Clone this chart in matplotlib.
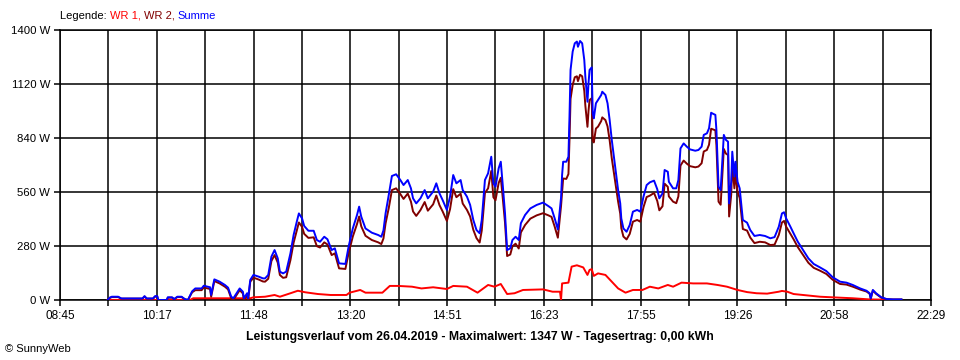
import matplotlib
matplotlib.use("Agg")
import matplotlib.pyplot as plt
from matplotlib.offsetbox import TextArea, HPacker, AnnotationBbox

# ---------------- data ----------------
sum_times = ["09:30","09:32","09:34","09:40","09:43","10:03","10:05","10:07","10:13","10:15","10:17","10:18",
             "10:26","10:27","10:31","10:33","10:36","10:40","10:43","10:46","10:50","10:53","10:59","11:01",
             "11:07","11:08","11:11","11:16","11:21","11:24","11:27","11:29","11:32","11:35","11:38","11:39",
             "11:42","11:43","11:45","11:48","11:53","11:57","11:59","12:02","12:05","12:08","12:11","12:13",
             "12:16","12:19","12:23","12:26","12:29","12:31","12:34","12:36","12:40","12:45","12:48","12:51",
             "12:55","12:58","13:02","13:05","13:09","13:15","13:18","13:22","13:26","13:28","13:30","13:34",
             "13:40","13:46","13:49","13:51","13:53","13:56","13:59","14:03","14:07","14:10","14:14","14:17",
             "14:19","14:22","14:26","14:30","14:33","14:38","14:41","14:44","14:47","14:51","14:54","14:57",
             "15:00","15:04","15:06","15:10","15:13","15:16","15:19","15:22","15:24","15:27","15:30","15:33",
             "15:35","15:37","15:40","15:42","15:44","15:46","15:48","15:51","15:53","15:56","15:59","16:01",
             "16:05","16:10","16:16","16:22","16:27","16:30","16:33","16:36","16:39","16:40","16:41","16:44",
             "16:46","16:47","16:48","16:50","16:52","16:54","16:55","16:57","16:59","17:01","17:02","17:04",
             "17:05","17:06","17:08","17:09","17:10","17:12","17:14","17:17","17:18","17:21","17:23","17:25",
             "17:27","17:29","17:31","17:33","17:35","17:36","17:38","17:41","17:44","17:47","17:51","17:54",
             "17:57","18:00","18:03","18:07","18:10","18:12","18:15","18:17","18:20","18:21","18:25","18:28",
             "18:30","18:32","18:35","18:38","18:41","18:46","18:49","18:52","18:54","18:57","18:59","19:01",
             "19:03","19:05","19:06","19:07","19:08","19:10","19:12","19:13","19:15","19:17","19:18","19:20",
             "19:21","19:23","19:24","19:26","19:28","19:30","19:31","19:35","19:38","19:42","19:47","19:52",
             "19:57","20:01","20:05","20:08","20:10","20:12","20:16","20:19","20:23","20:28","20:33","20:38",
             "20:44","20:50","20:56","21:03","21:09","21:15","21:22","21:28","21:31","21:32","21:34","21:37",
             "21:42","21:47","21:53","22:01"]

summe = [0,12,17,17,8,8,20,8,8,20,20,0,
         0,14,14,5,17,17,5,0,45,60,60,74,
         66,26,107,95,78,64,17,9,35,60,43,9,
         35,9,104,130,121,112,112,130,225,259,216,147,
         138,147,242,337,406,449,423,384,359,359,311,302,
         328,315,259,268,190,187,276,371,441,484,432,371,
         349,337,328,361,449,544,643,652,622,596,622,579,
         527,501,527,570,527,562,605,553,518,467,536,648,
         605,622,570,536,493,415,363,346,415,622,657,743,
         605,587,683,717,587,449,259,268,311,328,311,398,
         441,475,493,505,487,475,423,366,530,648,717,717,
         743,951,1193,1288,1331,1340,1313,1343,1331,1244,1158,1028,
         1124,1193,1206,968,942,1020,1037,1063,1080,1063,1020,933,
         830,743,657,570,501,423,371,354,389,458,467,458,
         536,596,610,619,575,527,553,674,665,613,579,579,
         622,786,812,795,781,774,778,795,856,864,890,971,
         965,960,881,726,587,570,760,856,830,821,501,613,
         769,640,717,613,579,467,415,401,363,332,337,332,
         320,326,380,449,455,423,380,346,302,259,216,187,
         169,150,118,95,90,78,60,48,35,9,52,35,
         14,5,3,3]

wr2 = [0,10,15,15,7,7,18,7,7,18,18,0,
       0,12,12,4,15,15,4,0,40,51,51,65,
       57,17,98,86,69,55,8,0,26,51,34,0,
       26,0,95,116,106,96,95,110,202,233,194,130,
       115,118,207,297,360,402,379,343,322,325,279,272,
       299,288,233,242,164,161,242,329,394,433,382,333,
       311,299,290,319,397,476,570,579,549,524,552,510,
       459,436,466,508,463,496,542,492,459,410,471,575,
       533,551,500,467,433,364,321,298,360,555,579,669,
       533,517,607,634,521,401,228,236,278,292,267,350,
       389,422,439,450,439,431,380,323,487,562,630,628,
       653,831,1043,1115,1155,1160,1135,1168,1160,1084,1008,898,
       981,1037,1046,826,817,889,899,928,947,933,900,828,
       735,660,585,510,448,373,329,314,343,406,415,406,
       481,534,541,555,514,465,486,603,587,537,510,502,
       537,697,723,707,694,688,692,709,770,778,805,888,
       884,880,802,648,510,494,686,783,759,752,433,547,
       705,579,658,561,529,419,368,360,324,295,302,299,
       285,287,337,402,410,380,343,315,274,233,193,167,
       152,135,105,83,80,69,54,44,32,6,49,32,
       12,4,3,3]

wr1_times = ["09:30","10:48","10:51","11:45","11:48","11:59","12:08","12:13","12:23","12:30","12:37","12:49",
             "13:01","13:16","13:19","13:29","13:34","13:50","13:57","14:05","14:18","14:27","14:38","14:51",
             "14:57","15:10","15:20","15:30","15:36","15:42","15:48","15:55","16:03","16:22","16:31","16:38",
             "16:39","16:40","16:46","16:49","16:54","17:00","17:04","17:06","17:08","17:10","17:14","17:21",
             "17:27","17:33","17:40","17:47","17:56","18:03","18:11","18:20","18:25","18:33","18:44","18:57",
             "19:07","19:16","19:26","19:35","19:44","19:54","20:05","20:08","20:13","20:19","20:28","20:44",
             "21:03","21:15","21:31","21:44","21:50"]
wr1 = [0,0,9,9,14,17,26,17,35,48,40,31,
       26,26,38,52,38,38,73,73,69,60,66,57,
       73,69,38,78,69,83,31,35,52,55,43,43,
       0,86,90,173,180,169,130,156,160,125,138,130,
       95,60,38,52,52,69,60,78,69,90,86,86,
       78,69,52,41,35,33,43,47,43,31,26,17,
       12,9,3,2,0]

x_tick_labels = ["08:45","10:17","11:48","13:20","14:51","16:23","17:55","19:26","20:58","22:29"]
y_ticks = [0, 280, 560, 840, 1120, 1400]

legend_parts = [("Legende: ", "#000000"), ("WR 1, ", "#ff0000"), ("WR 2, ", "#800000"), ("Summe", "#0000ff")]
title_text = "Leistungsverlauf vom 26.04.2019 - Maximalwert: 1347 W - Tagesertrag: 0,00 kWh"
copyright_text = "\u00a9 SunnyWeb"

# ---------------- drawing ----------------
def to_min(s):
    h, m = s.split(":")
    return int(h) * 60 + int(m)

FONT = "Liberation Sans"
W, H = 960, 360
fig = plt.figure(figsize=(W / 100, H / 100), dpi=100)
fig.patch.set_facecolor("white")
ax = fig.add_axes([60 / W, 1 - 300 / H, (931 - 60) / W, (300 - 30) / H])

t0 = to_min(x_tick_labels[0])
t1 = to_min(x_tick_labels[-1])

ts = [to_min(t) for t in sum_times]
tw = [to_min(t) for t in wr1_times]
lw = 1.4
ax.plot(tw, wr1, color="#ff0000", lw=lw, zorder=3)
ax.plot(ts, wr2, color="#800000", lw=lw, zorder=4)
ax.plot(ts, summe, color="#0000ff", lw=lw, zorder=5)

ax.set_xlim(t0, t1)
ax.set_ylim(0, 1400)
n = 18
xt = [t0 + k * (t1 - t0) / n for k in range(n + 1)]
ax.set_xticks(xt)
labels = []
for k in range(n + 1):
    labels.append(x_tick_labels[k // 2] if k % 2 == 0 else "")
ax.set_xticklabels(labels, fontsize=8.5, family=FONT)
ax.set_yticks(y_ticks)
ax.set_yticklabels([f"{v} W" for v in y_ticks], fontsize=8.2, family=FONT)
ax.tick_params(direction="out", length=4, width=1.1, color="black", pad=3)
ax.grid(True, color="black", lw=1.1)
ax.set_axisbelow(True)
for sp in ax.spines.values():
    sp.set_color("black")
    sp.set_linewidth(1.1)

boxes = [TextArea(t, textprops=dict(color=c, size=8, family=FONT)) for t, c in legend_parts]
hp = HPacker(children=boxes, align="baseline", pad=0, sep=0)
ab = AnnotationBbox(hp, (60 / W, 1 - 16 / H), xycoords="figure fraction",
                    box_alignment=(0, 0.5), frameon=False, pad=0)
fig.add_artist(ab)

fig.text(479.5 / W, 1 - 337 / H, title_text, ha="center", va="center",
         fontsize=8.8, fontweight="bold", family=FONT)
fig.text(5 / W, 1 - 349 / H, copyright_text, ha="left", va="center",
         fontsize=8, family=FONT)

fig.savefig("out.png", dpi=100)
